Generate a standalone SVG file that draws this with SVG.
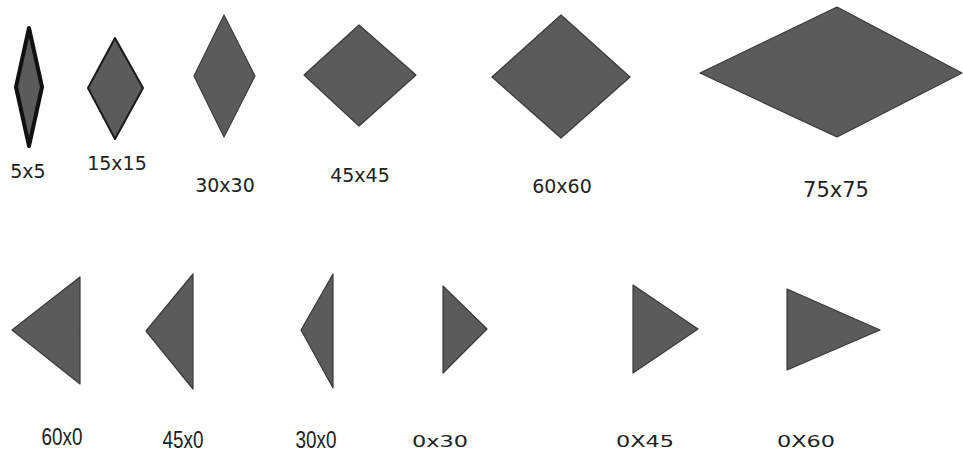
<svg xmlns="http://www.w3.org/2000/svg" width="963" height="455" viewBox="0 0 963 455">
<style>
.s{fill:#5b5b5b;stroke:#3a3a3a;stroke-width:1.2;stroke-linejoin:round}
.t{font-family:"DejaVu Sans",Verdana,sans-serif;font-size:19px;fill:#222;text-anchor:middle}
.n{font-family:"Liberation Sans",Arial,sans-serif;font-size:23px;fill:#222;text-anchor:middle}
.w{font-family:"DejaVu Sans",Verdana,sans-serif;font-size:16px;fill:#222;text-anchor:middle}
</style>
<rect width="963" height="455" fill="#fff"/>
<g id="connectors"/>
<g id="d5x5"><polygon class="s" points="29,28 42,87 29,146 16,87" style="stroke:#111;stroke-width:4"/><text class="t" x="28" y="178">5x5</text></g>
<g id="d15x15"><polygon class="s" points="115,38 143,88 115,139 88,88" style="stroke:#1a1a1a;stroke-width:2"/><text class="t" x="117" y="170">15x15</text></g>
<g id="d30x30"><polygon class="s" points="224,15 255,76 224,137 194,76"/><text class="t" x="225" y="192">30x30</text></g>
<g id="d45x45"><polygon class="s" points="359,25 416,75 359,126 304,75"/><text class="t" x="360" y="182">45x45</text></g>
<g id="d60x60"><polygon class="s" points="561,15 630,77 561,138 492,77"/><text class="t" x="562" y="193">60x60</text></g>
<g id="d75x75"><polygon class="s" points="837,7 962,73 837,137 700,73"/><text class="t" x="836" y="197" style="font-size:21px">75x75</text></g>
<g id="t60x0"><polygon class="s" points="80,277 80,384 12,330"/><text class="n" transform="translate(62,445) scale(0.82,1)">60x0</text></g>
<g id="t45x0"><polygon class="s" points="193,274 193,389 146,331"/><text class="n" transform="translate(183,448) scale(0.82,1)">45x0</text></g>
<g id="t30x0"><polygon class="s" points="333,274 333,388 301,330"/><text class="n" transform="translate(316,448) scale(0.82,1)">30x0</text></g>
<g id="t0x30"><polygon class="s" points="443,286 487,329 443,373"/><text class="w" transform="translate(440,447) scale(1.4,1)">0x30</text></g>
<g id="t0x45"><polygon class="s" points="633,285 698,329 633,373"/><text class="w" transform="translate(645,447) scale(1.4,1)">0X45</text></g>
<g id="t0x60"><polygon class="s" points="787,289 880,330 787,370"/><text class="w" transform="translate(806,447) scale(1.4,1)">0X60</text></g>
</svg>
